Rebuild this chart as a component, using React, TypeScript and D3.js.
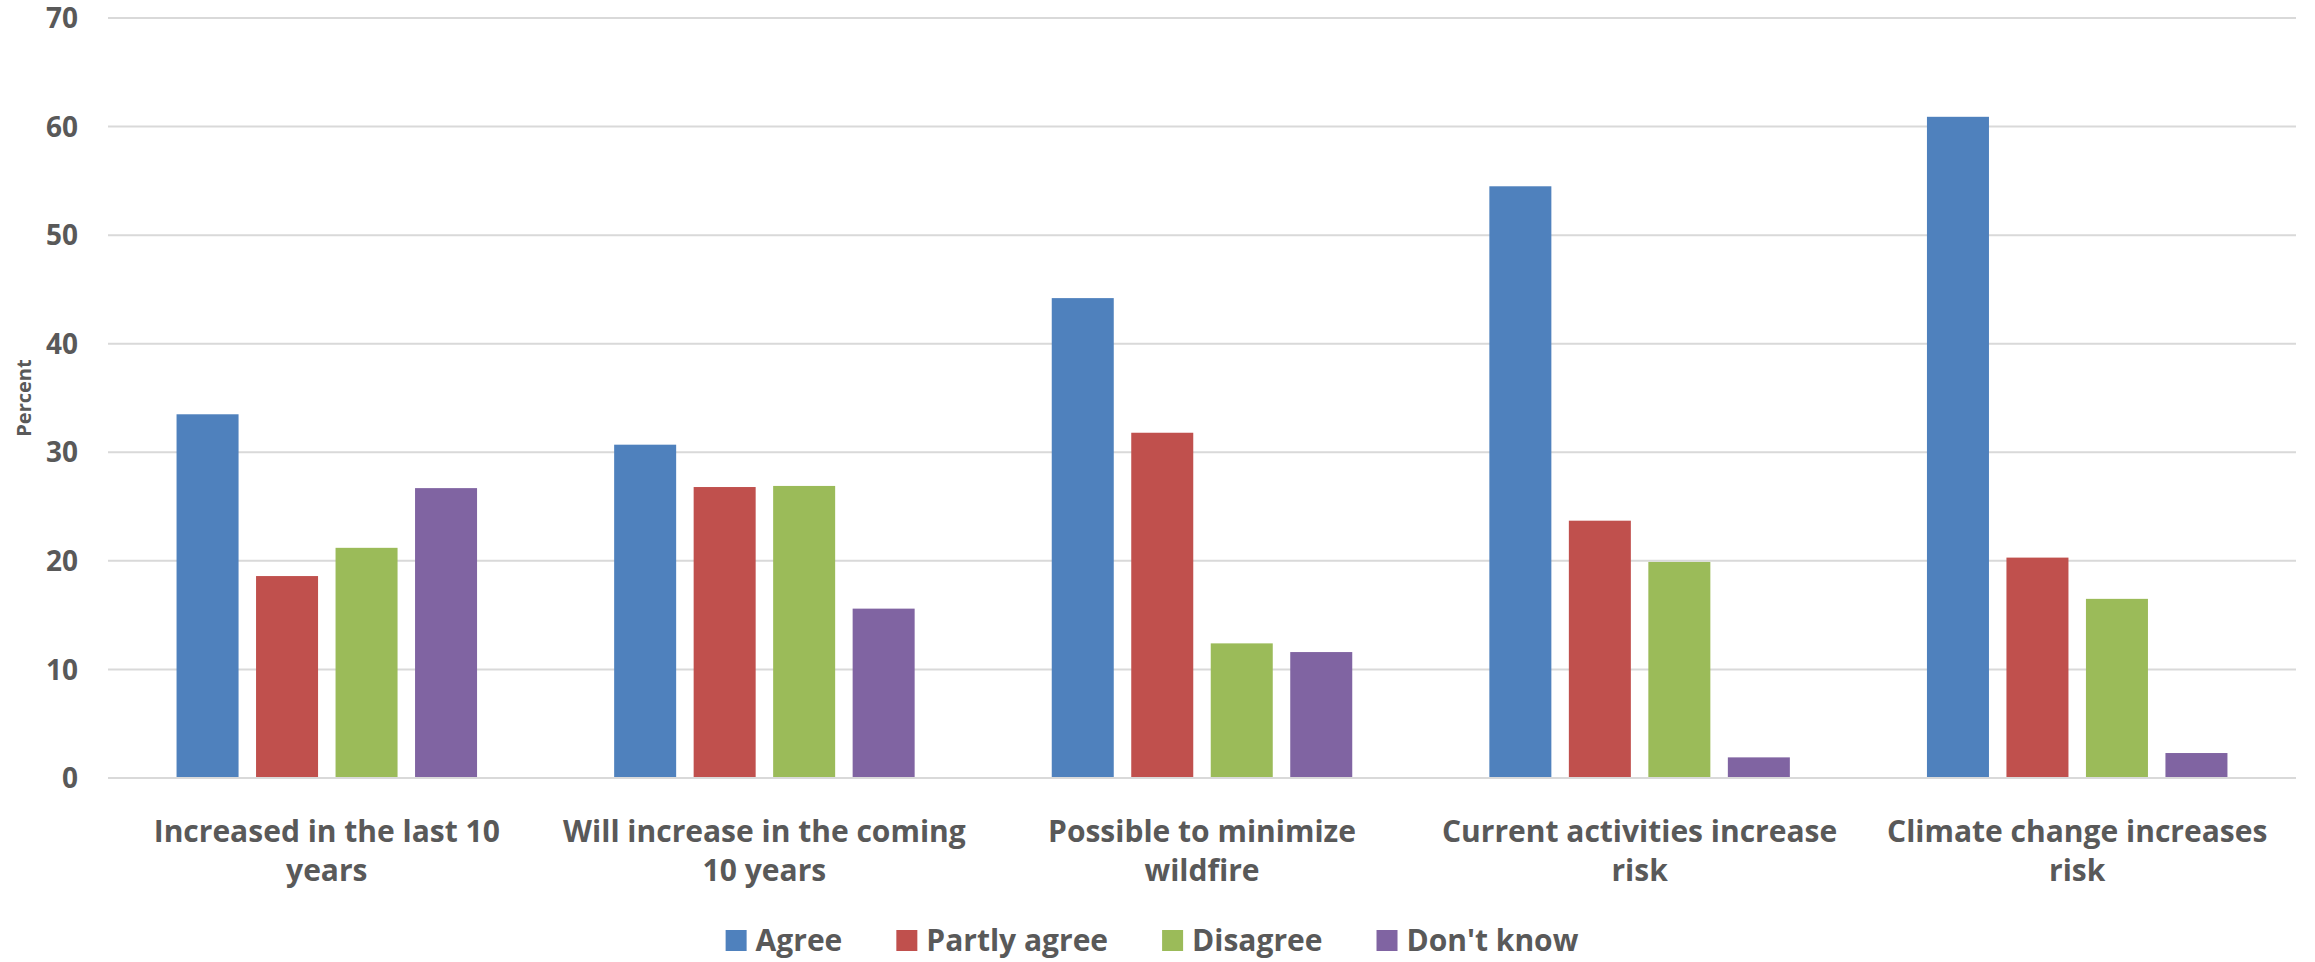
import React from "react";
import * as d3 from "d3";

const categories = [
  "Increased in the last 10 years",
  "Will increase in the coming 10 years",
  "Possible to minimize wildfire",
  "Current activities increase risk",
  "Climate change increases risk",
];
const categoryLines = [
  ["Increased in the last 10", "years"],
  ["Will increase in the coming", "10 years"],
  ["Possible to minimize", "wildfire"],
  ["Current activities increase", "risk"],
  ["Climate change increases", "risk"],
];
const seriesNames = ["Agree", "Partly agree", "Disagree", "Don't know"];
const agree = [33.5, 30.7, 44.2, 54.5, 60.9];
const partlyAgree = [18.6, 26.8, 31.8, 23.7, 20.3];
const disagree = [21.2, 26.9, 12.4, 19.9, 16.5];
const dontKnow = [26.7, 15.6, 11.6, 1.9, 2.3];
const yTicks = [0, 10, 20, 30, 40, 50, 60, 70];
const colors = ["#4F81BD", "#C0504D", "#9BBB59", "#8064A2"];

const W = 2315;
const H = 962;
const FONT = "'Open Sans', Lato, sans-serif";
const TEXT = "#595959";

function measure(text: string, size: number): number {
  const c = document.createElement("canvas").getContext("2d");
  if (!c) return text.length * size * 0.55;
  c.font = `bold ${size}px 'Open Sans'`;
  return c.measureText(text).width;
}

export default function App() {
  const series = [agree, partlyAgree, disagree, dontKnow];
  const left = 108;
  const right = 2296;
  const y = d3.scaleLinear().domain([0, 70]).range([778, 18]);
  const x0 = d3.scaleBand<string>().domain(categories).range([left, right]).paddingInner(0).paddingOuter(0);
  const groupW = x0.bandwidth();
  const innerSpan = 300.5;
  const x1 = d3
    .scaleBand<string>()
    .domain(seriesNames)
    .range([(groupW - innerSpan) / 2, (groupW + innerSpan) / 2])
    .paddingInner(0.22)
    .paddingOuter(0);

  // legend layout
  const legSize = 30;
  const sq = 21;
  const sqGap = 9;
  const itemGap = 54;
  const widths = seriesNames.map((s) => measure(s, legSize));
  const totalW = widths.reduce((a, w) => a + sq + sqGap + w, 0) + itemGap * (seriesNames.length - 1);
  let cursor = 1152 - totalW / 2;
  const legendItems = seriesNames.map((s, i) => {
    const x = cursor;
    cursor += sq + sqGap + widths[i] + itemGap;
    return { s, x, color: colors[i] };
  });

  return (
    <svg
      width={W}
      height={H}
      style={{ position: "absolute", left: 0, top: 0, background: "#fff" }}
      fontFamily={FONT}
    >
      <rect x={0} y={0} width={W} height={H} fill="#fff" />
      {yTicks.map((t) => (
        <g key={t}>
          <line x1={left} x2={right} y1={y(t)} y2={y(t)} stroke="#d9d9d9" strokeWidth={2} />
          <text
            x={78}
            y={y(t)}
            dy="0.36em"
            textAnchor="end"
            fontSize={28}
            fontWeight="bold"
            fill={TEXT}
          >
            {t}
          </text>
        </g>
      ))}
      <text
        transform={`translate(31, ${(y(0) + y(70)) / 2}) rotate(-90)`}
        textAnchor="middle"
        fontSize={20}
        fontWeight="bold"
        fill={TEXT}
      >
        Percent
      </text>
      {categories.map((c, ci) => (
        <g key={c} transform={`translate(${x0(c)},0)`}>
          {series.map((vals, si) => (
            <rect
              key={si}
              x={x1(seriesNames[si])}
              y={y(vals[ci])}
              width={x1.bandwidth()}
              height={y(0) - y(vals[ci])}
              fill={colors[si]}
            />
          ))}
          {categoryLines[ci].map((ln, li) => (
            <text
              key={li}
              x={groupW / 2}
              y={842 + li * 39}
              textAnchor="middle"
              fontSize={30}
              fontWeight="bold"
              fill={TEXT}
            >
              {ln}
            </text>
          ))}
        </g>
      ))}
      <line x1={left} x2={right} y1={y(0)} y2={y(0)} stroke="#d9d9d9" strokeWidth={2} />
      {legendItems.map((it) => (
        <g key={it.s}>
          <rect x={it.x} y={930} width={sq} height={sq} fill={it.color} />
          <text x={it.x + sq + sqGap} y={951} fontSize={legSize} fontWeight="bold" fill={TEXT}>
            {it.s}
          </text>
        </g>
      ))}
    </svg>
  );
}
